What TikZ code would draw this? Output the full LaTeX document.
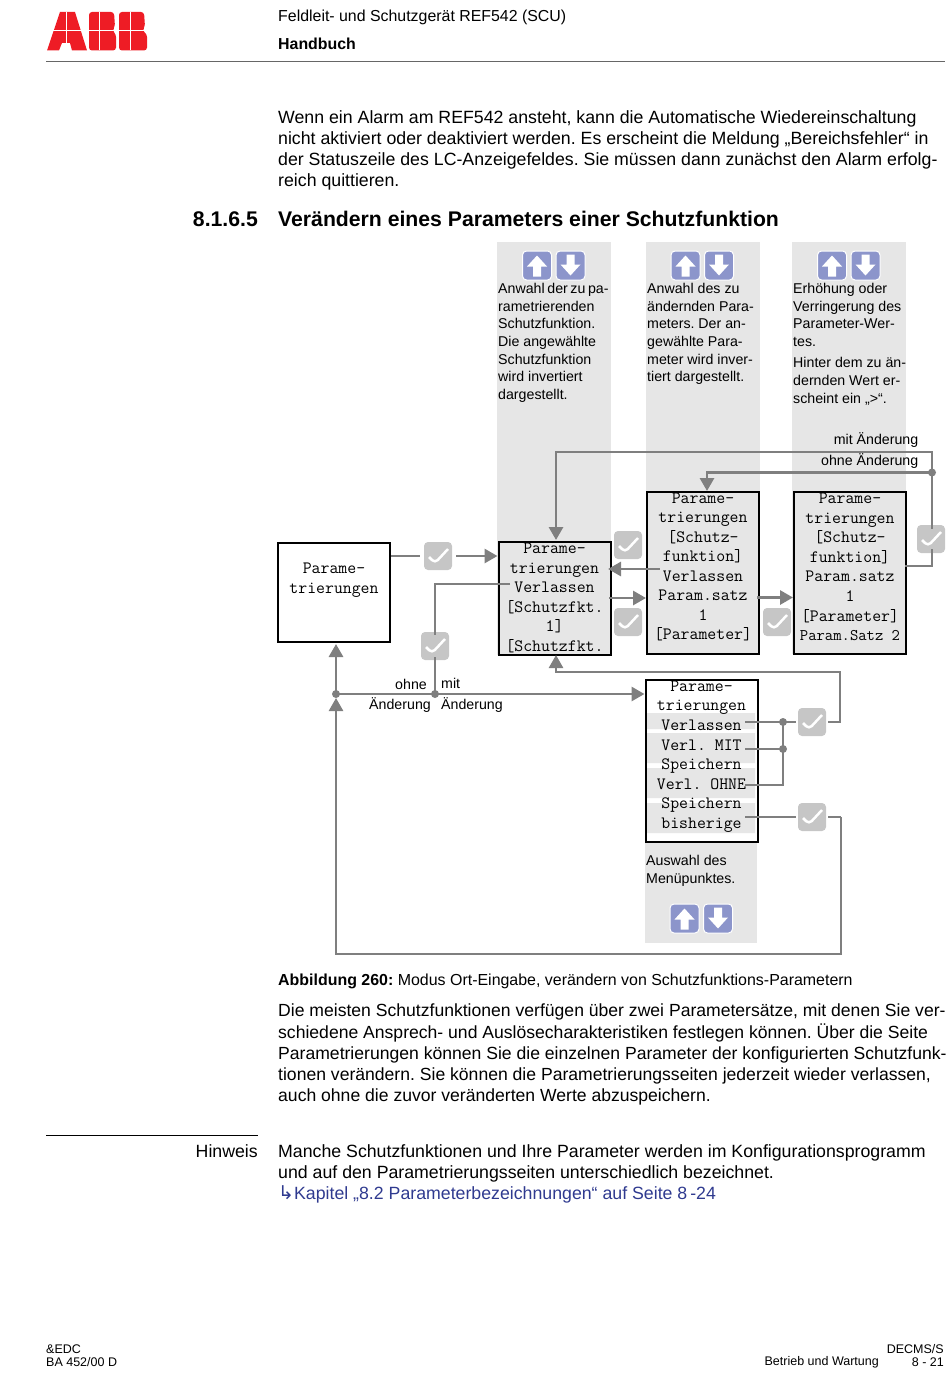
\documentclass[tikz,border=0pt]{standalone}
\usepackage{fontspec}
\setmainfont{Liberation Sans}
\newfontfamily\symfont{DejaVu Sans}
\usetikzlibrary{calc, shapes, arrows.meta}
\definecolor{panelgray}{HTML}{E6E6E6}
\definecolor{linegray}{HTML}{7F7F7F}
\definecolor{checkgray}{HTML}{C6C6C6}
\definecolor{keyblue}{HTML}{8C95CB}
\definecolor{linkblue}{HTML}{2F3A8F}
\definecolor{abbred}{HTML}{EE1C25}
\tikzstyle{para} = [inner sep=0, anchor=north west, align=left, font=\fontsize{17.73}{21.25}\selectfont]
\tikzstyle{note} = [inner sep=0, anchor=north west, align=left, font=\fontsize{14.2}{17.7}\selectfont]
\tikzstyle{small} = [inner sep=0, font=\fontsize{12.5}{14.5}\selectfont]
\tikzstyle{panel} = [rectangle, draw=black, line width=2, minimum width=112, minimum height=113, inner sep=0, fill=panelgray]
\tikzstyle{lcd} = [inner sep=0, align=center, font=\ttfamily\fontsize{17.3}{19.55}\selectfont]
\tikzstyle{check} = [rectangle, rounded corners=4, fill=checkgray, minimum width=28, minimum height=28, inner sep=0,
    path picture={\draw[white, line width=2.5] ($(path picture bounding box.center)+(-9,1)$) -- ++(6,6) -- ++(13,-14);}]
\tikzstyle{wire} = [draw=linegray, line width=2.9]
\tikzstyle{arrowed} = [wire, -{Triangle[length=13, width=14]}]
\tikzstyle{loopline} = [arrowed, line width=2.5]
\tikzstyle{joint} = [circle, fill=linegray, minimum size=8, inner sep=0]
\tikzstyle{key} = [rectangle, rounded corners=4, fill=keyblue, draw=white, line width=1, minimum size=29, inner sep=0]
\begin{document}
\frenchspacing
\begin{tikzpicture}[x=1pt, y=-1pt]
        \useasboundingbox (0, 0) rectangle (950, 1388);

        \fill[abbred] (47, 50.5) -- (60, 12) -- (75, 12) -- (87, 50.5) -- (72, 50.5) -- (70, 43) -- (62, 43) -- (59, 50.5) -- cycle;
        \fill[abbred, rounded corners=3] (89, 12) -- (114, 12) -- (115, 27) -- (112, 30.5) -- (116, 34) -- (116, 50.5) -- (89, 50.5) -- cycle;
        \fill[abbred, rounded corners=3] (119, 12) -- (144, 12) -- (145, 27) -- (142, 30.5) -- (147, 34) -- (147, 50.5) -- (119, 50.5) -- cycle;
        \draw[white, line width=0.8] (47, 30.5) -- (147, 30.5) (66, 12) -- (66, 50.5) (99, 12) -- (99, 50.5) (130, 12) -- (130, 50.5);
        \draw[black!60, line width=1] (46, 61.5) -- (945, 61.5);

        \node[inner sep=0, anchor=west, font=\fontsize{15.9}{18}\selectfont] (PageTitle) at (278, 17.5) {Feldleit- und Schutzgerät REF542 (SCU)};
        \node[inner sep=0, anchor=west, font=\bfseries\fontsize{15.9}{18}\selectfont] (PageSub) at (278, 44) {Handbuch};

        \node[para] (IntroText) at (278, 110) {Wenn ein Alarm am REF542 ansteht, kann die Automatische Wiedereinschaltung\\
            nicht aktiviert oder deaktiviert werden. Es erscheint die Meldung „Bereichsfehler“ in\\
            der Statuszeile des LC-Anzeigefeldes. Sie müssen dann zunächst den Alarm erfolg-\\
            reich quittieren.};
        \node[inner sep=0, anchor=east, font=\bfseries\fontsize{21.2}{24}\selectfont] (SecNumber) at (258, 219) {8.1.6.5};
        \node[inner sep=0, anchor=west, font=\bfseries\fontsize{21.2}{24}\selectfont] (SecTitle) at (278, 219) {Verändern eines Parameters einer Schutzfunktion};

        \fill[panelgray] (497, 242) rectangle (611, 655);
        \fill[panelgray] (646, 242) rectangle (760, 654);
        \fill[panelgray] (792, 242) rectangle (906, 654);
        \fill[panelgray] (645, 842) rectangle (757, 943);

        \foreach \keyx/\keyy in {537/265.5, 685.5/265.5, 832/265.5, 684.5/918.5} {
            \node[key] (KeyUp\keyx) at (\keyx, \keyy) {};
            \fill[white] (\keyx, \keyy-10) -- ++(10, 11) -- ++(-6, 0) -- ++(0, 10) -- ++(-8, 0) -- ++(0, -10) -- ++(-6, 0) -- cycle;
            \node[key] (KeyDown\keyx) at (\keyx+33.5, \keyy) {};
            \fill[white] (\keyx+33.5, \keyy+10) -- ++(10, -11) -- ++(-6, 0) -- ++(0, -10) -- ++(-8, 0) -- ++(0, 10) -- ++(-6, 0) -- cycle;
        }

        \node[note] (NoteFunc) at (498, 283) {{\spaceskip=2.6pt Anwahl der zu pa-}\\rametrierenden\\Schutzfunktion.\\Die angewählte\\Schutzfunktion\\wird invertiert\\dargestellt.};
        \node[note] (NoteParam) at (647, 283) {Anwahl des zu\\ändernden Para-\\meters. Der an-\\gewählte Para-\\meter wird inver-\\tiert dargestellt.};
        \node[note] (NoteValue) at (793, 283) {Erhöhung oder\\Verringerung des\\Parameter-Wer-\\tes.};
        \node[note] (NoteCursor) at (793, 357.5) {Hinter dem zu än-\\dernden Wert er-\\scheint ein „>“.};
        \node[note, anchor=east] (WithChange) at (918.5, 440.5) {mit Änderung};
        \node[note, anchor=east] (NoChange) at (918.5, 461) {ohne Änderung};
        \node[note, anchor=east] (NoLabel) at (427, 684) {ohne};
        \node[note, anchor=west] (WithLabel) at (441, 683) {mit};
        \node[note, anchor=east] (NoChangeB) at (431, 705) {Änderung};
        \node[note, anchor=west] (WithChangeB) at (441, 705) {Änderung};
        \node[note] (NoteMenu) at (646, 855.5) {Auswahl des\\Menüpunktes.};

        \node[panel, fill=white, minimum height=99] (ParamStart) at (334, 592.5) {};
        \node[panel] (ParamFunc) at (554.5, 598.5) {};
        \node[panel, minimum height=162] (ParamSet) at (703, 573) {};
        \node[panel, minimum height=162] (ParamValue) at (850, 573) {};
        \node[panel, fill=white, minimum height=162] (ParamExit) at (701.5, 761) {};
        \fill[panelgray] (647, 713) rectangle (755, 729) (647, 733) rectangle (755, 763) (647, 768) rectangle (755, 798) (647, 803) rectangle (755, 833);

        \node[lcd] (LcdStart) at (334, 580) {Parame-\\trierungen};
        \node[lcd] (LcdFunc) at (554.5, 598) {Parame-\\trierungen\\Verlassen\\{[Schutzfkt.}\\1]\\{[Schutzfkt.}};
        \node[lcd] (LcdSet) at (703, 567) {Parame-\\trierungen\\{[Schutz-}\\funktion]\\Verlassen\\Param.satz\\1\\{[Parameter]}};
        \node[lcd] (LcdValue) at (850, 567) {Parame-\\trierungen\\{[Schutz-}\\funktion]\\Param.satz\\1\\{[Parameter]}\\{\fontsize{16.2}{19.55}\selectfont Param.Satz 2}};
        \node[lcd] (LcdExit) at (701.5, 756.5) {Parame-\\trierungen\\Verlassen\\Verl. MIT\\Speichern\\Verl. OHNE\\Speichern\\bisherige};

        \node[check] (CheckStart) at (438, 556) {};
        \node[check] (CheckBack) at (628, 545) {};
        \node[check] (CheckFunc) at (628, 622) {};
        \node[check] (CheckSet) at (777, 622) {};
        \node[check] (CheckValue) at (931, 539) {};
        \node[check] (CheckLeave) at (435, 646) {};
        \node[check] (CheckMenu) at (812, 722) {};
        \node[check] (CheckOld) at (812, 817) {};

        \coordinate (FuncExit) at (510, 584);
        \coordinate (LeaveJoint) at (435, 694);
        \coordinate (MainJoint) at (336, 694);
        \coordinate (ValueJoint) at (932, 472.5);
        \coordinate (MenuJoint) at (783, 722);
        \coordinate (SaveJoint) at (783, 749);

        \draw[wire] (ParamStart.east |- CheckStart) -- ([xshift=-4]CheckStart.west);
        \draw[arrowed] ([xshift=4]CheckStart.east) -- (ParamFunc.west |- CheckStart);
        \draw[arrowed] (660, 569) -- (608, 569);
        \draw[arrowed] (609, 598) -- (ParamSet.west |- 0, 598);
        \draw[arrowed] (757, 597.5) -- (ParamValue.west |- 0, 597.5);
        \draw[wire] (905, 566) -- (932, 566) -- ([yshift=4]CheckValue.south -| 932, 0);
        \draw[arrowed] ([yshift=-4]CheckValue.north -| 932, 0) -- (932, 452) -- (556, 452) -- (556, 540);
        \draw[arrowed] (ValueJoint) -- (707, 472.5) -- (707, 491);
        \draw[wire] (FuncExit) -- (435, 584) -- ([yshift=-3]CheckLeave.north);
        \draw[wire] ([yshift=3]CheckLeave.south) -- (LeaveJoint);
        \draw[arrowed] (MainJoint) -- (ParamExit.west |- MainJoint);
        \draw[arrowed] (MainJoint) -- (336, 644);
        \draw[loopline] (841, 817) -- (841, 954) -- (336, 954) -- (336, 698);
        \draw[wire, line width=2.5] ([xshift=2]CheckOld.east) -- (841, 817);
        \draw[wire] (745, 722) -- ([xshift=-2]CheckMenu.west);
        \draw[wire] (745, 749) -- (SaveJoint);
        \draw[wire] (745, 785) -- (783, 785) -- (MenuJoint);
        \draw[wire] (745, 817) -- ([xshift=-2]CheckOld.west);
        \draw[loopline] ([xshift=2]CheckMenu.east) -- (840, 722) -- (840, 672) -- (556, 672) -- (556, 655);

        \node[joint] (JointA) at (ValueJoint) {};
        \node[joint] (JointB) at (LeaveJoint) {};
        \node[joint] (JointC) at (MainJoint) {};
        \node[joint] (JointD) at (MenuJoint) {};
        \node[joint] (JointE) at (SaveJoint) {};

        \node[inner sep=0, anchor=west, font=\fontsize{15.95}{18}\selectfont] (Caption) at (278, 981) {\textbf{Abbildung 260:} Modus Ort-Eingabe, verändern von Schutzfunktions-Parametern};
        \node[para, font=\fontsize{17.58}{21.25}\selectfont] (BodyText) at (278, 1004) {Die meisten Schutzfunktionen verfügen über zwei Parametersätze, mit denen Sie ver-\\
            schiedene Ansprech- und Auslösecharakteristiken festlegen können. Über die Seite\\
            Parametrierungen können Sie die einzelnen Parameter der konfigurierten Schutzfunk-\\
            tionen verändern. Sie können die Parametrierungsseiten jederzeit wieder verlassen,\\
            auch ohne die zuvor veränderten Werte abzuspeichern.};
        \draw[black, line width=1] (46, 1135) -- (258, 1135);
        \node[inner sep=0, anchor=east, font=\fontsize{17.73}{21}\selectfont] (HintLabel) at (258, 1151.5) {Hinweis};
        \node[para] (HintText) at (278, 1144) {Manche Schutzfunktionen und Ihre Parameter werden im Konfigurationsprogramm\\
            und auf den Parametrierungsseiten unterschiedlich bezeichnet.\\
            \textcolor{linkblue}{{\symfont\fontsize{19}{21}\selectfont ↳}Kapitel „8.2 Parameterbezeichnungen“ auf Seite 8\,-24}};

        \node[small, anchor=west] (FootCode) at (46, 1349) {\&EDC};
        \node[small, anchor=west] (FootDoc) at (46, 1362.5) {BA 452/00 D};
        \node[small, anchor=east] (FootDept) at (944, 1349) {DECMS/S};
        \node[small, anchor=east] (FootChapter) at (879, 1362.5) {Betrieb und Wartung};
        \node[small, anchor=east] (FootPage) at (944, 1362.5) {8 - 21};
\end{tikzpicture}
\end{document}
